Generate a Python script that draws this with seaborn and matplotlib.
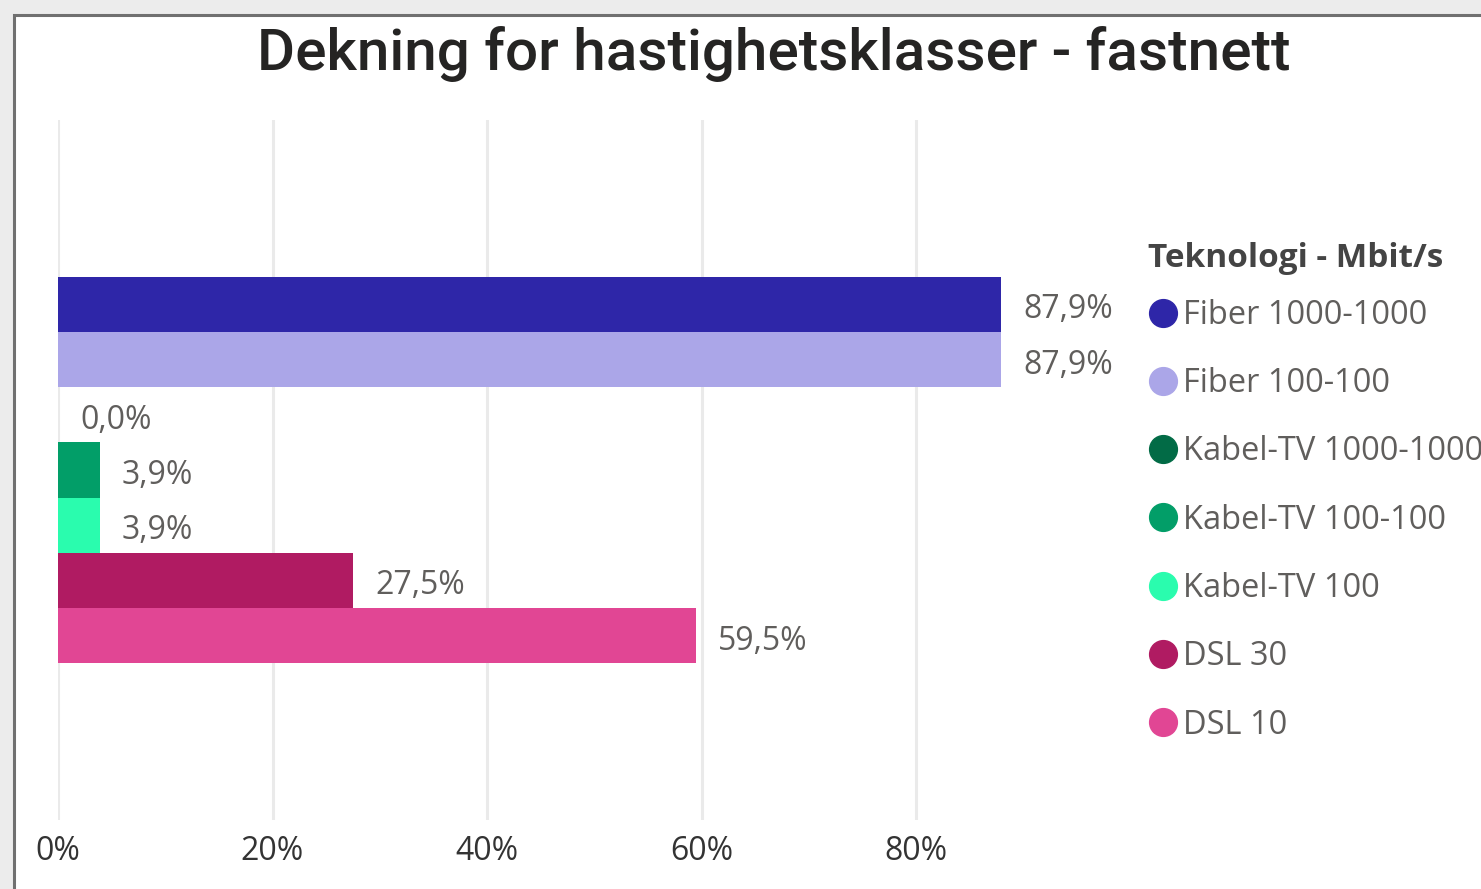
import pandas as pd
import seaborn as sns
import matplotlib.pyplot as plt
from matplotlib.patches import Rectangle
from matplotlib.lines import Line2D

# data
category = ["Dekning"]
technologies = ["Fiber 1000-1000", "Fiber 100-100", "Kabel-TV 1000-1000",
                "Kabel-TV 100-100", "Kabel-TV 100", "DSL 30", "DSL 10"]
coverage = [87.9, 87.9, 0.0, 3.9, 3.9, 27.5, 59.5]
colors = ["#2E26A8", "#ABA6E8", "#026B46", "#029E68", "#2AFCAE", "#B01B62", "#E14694"]
xticks = [0, 20, 40, 60, 80]

df = pd.DataFrame({"kategori": category * len(technologies),
                   "teknologi": technologies,
                   "dekning": coverage})

sns.set_style("white")
plt.rcParams["font.family"] = ["Open Sans", "DejaVu Sans"]

fig = plt.figure(figsize=(14.81, 8.89), dpi=100, facecolor="#ececec")
# white card with a grey frame on the top and left side
fig.patches.append(Rectangle((13.5 / 1481, -0.05), 1.1, 1 - 14.5 / 889 + 0.05,
                             transform=fig.transFigure, facecolor="white",
                             edgecolor="#707070", linewidth=2.2, zorder=-1))

ax = fig.add_axes([58 / 1481, (889 - 820) / 889, 1072.5 / 1481, 700 / 889])
ax.set_facecolor("none")

sns.barplot(data=df, x="dekning", y="kategori", hue="teknologi", hue_order=technologies,
            palette=colors, orient="h", width=0.552, saturation=1, legend=False,
            linewidth=0, ax=ax)

for cont, val in zip(ax.containers, coverage):
    for bar in cont:
        ax.annotate(f"{val:.1f}%".replace(".", ","),
                    (bar.get_width(), bar.get_y() + bar.get_height() / 2),
                    xytext=(16, -4), textcoords="offset points",
                    va="center", ha="left", fontsize=23, color="#605E5C")

ax.set_xlim(0, 100)
ax.set_xticks(xticks)
ax.set_xticklabels([f"{t}%" for t in xticks], fontsize=23, color="#333333")
ax.set_yticks([])
ax.set_xlabel("")
ax.set_ylabel("")
ax.grid(axis="x", color="#EAEAEA", linewidth=2.2)
ax.tick_params(axis="x", length=0, pad=11)
sns.despine(ax=ax, left=True, bottom=True)

fig.text(774 / 1481, 1 - 54 / 889, "Dekning for hastighetsklasser - fastnett",
         ha="center", va="center", fontsize=42, color="#252423",
         family="Roboto", weight="medium")

# legend title and entries
fig.text(1148 / 1481, 1 - 259 / 889, "Teknologi - Mbit/s", ha="left", va="center",
         fontsize=24, weight="bold", color="#444444")
handles = [Line2D([], [], marker="o", linestyle="", markersize=20,
                  markerfacecolor=c, markeredgecolor=c) for c in colors]
leg = fig.legend(handles, technologies, loc="upper left",
                 bbox_to_anchor=(1154 / 1481, 1 - 299 / 889), frameon=False,
                 fontsize=23.5, handlelength=0.55, handletextpad=0.35,
                 labelspacing=1.08, borderpad=0, borderaxespad=0)
for t in leg.get_texts():
    t.set_color("#605E5C")

fig.savefig("out.png", dpi=100, facecolor=fig.get_facecolor())
